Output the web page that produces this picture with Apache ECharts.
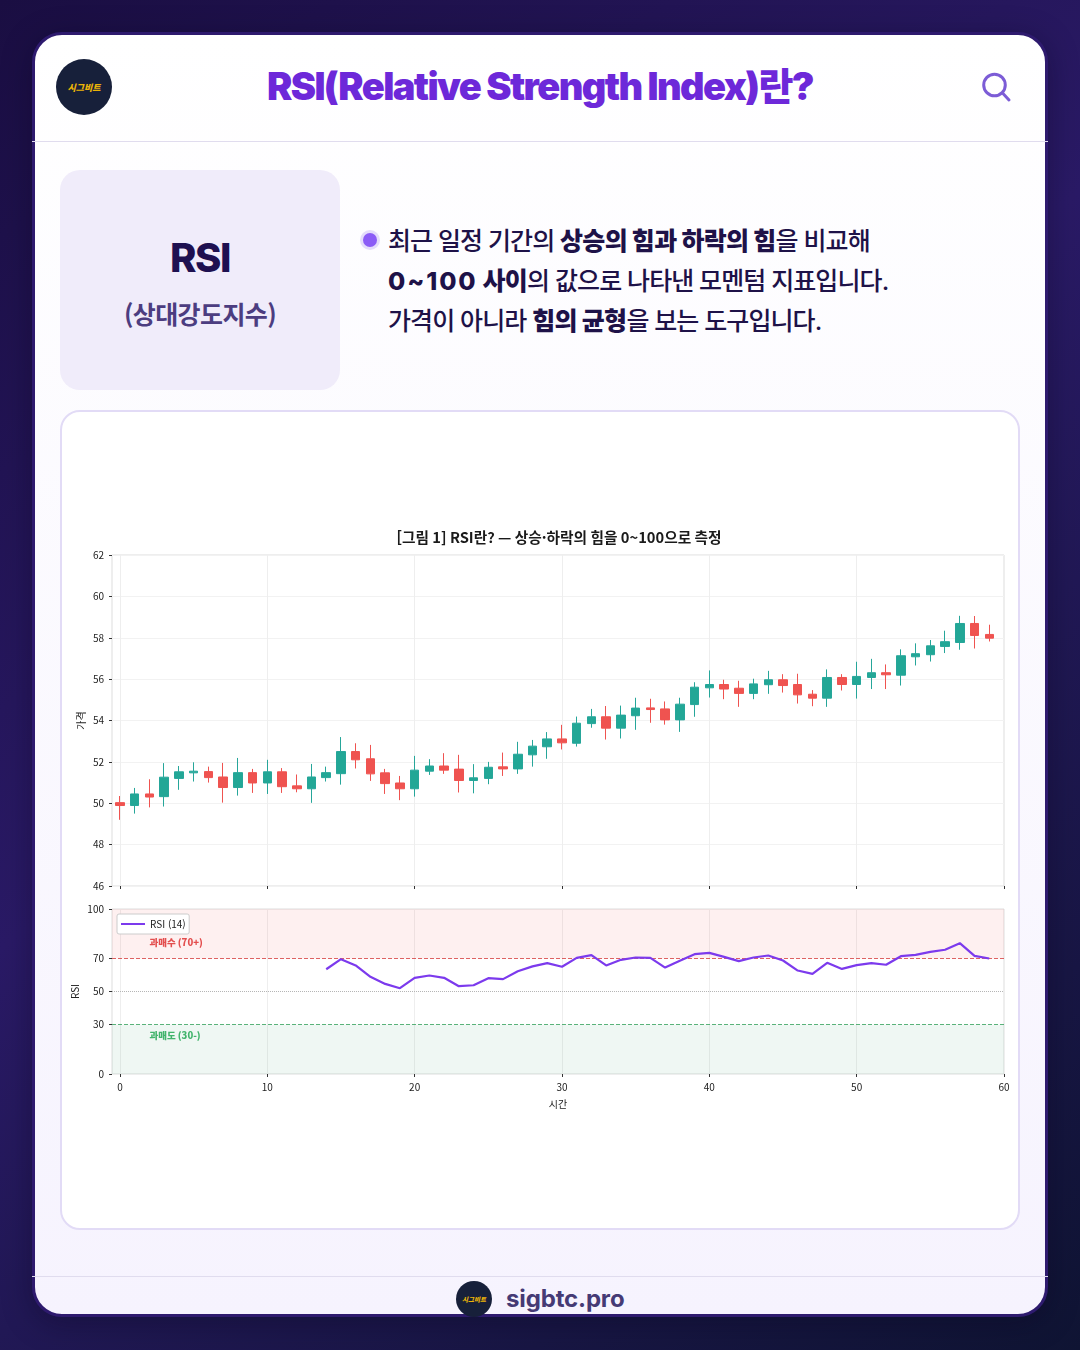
<!DOCTYPE html>
<html lang="ko"><head><meta charset="utf-8">
<script src="https://cdn.jsdelivr.net/npm/echarts@6/dist/echarts.min.js"></script>
<style>
*{box-sizing:border-box;margin:0;padding:0}
html,body{width:1080px;height:1350px;overflow:hidden}
body{position:relative;background:linear-gradient(145deg,#1a0e42 0%,#2a1a66 45%,#0f1433 100%);font-family:Inter,"Noto Sans CJK KR",sans-serif}
.abs{position:absolute}
#card{left:32px;top:32px;width:1016px;height:1285px;border:3px solid #2e1a6e;border-radius:30px;background:linear-gradient(180deg,#ffffff 0%,#f6f3fe 100%);overflow:hidden;box-shadow:0 6px 30px rgba(10,5,30,.35)}
.rule{left:32px;width:1016px;height:1px;background:#e0dcee}
.logo{border-radius:50%;background:#17203a;color:#eab308;font-family:"Noto Sans CJK KR";font-weight:900;font-style:italic;display:flex;align-items:center;justify-content:center;white-space:nowrap}
#title{left:0;top:59px;width:1080px;text-align:center;font-size:38px;line-height:54px;font-weight:900;letter-spacing:-1.6px;color:#6d28d9;font-family:Inter,"Noto Sans CJK KR"}
#box{left:60px;top:170px;width:280px;height:220px;border-radius:20px;background:#f0ecfa}
#b1{left:60px;top:232px;width:280px;text-align:center;font:800 40px/52px Inter,"Noto Sans CJK KR";letter-spacing:-1.5px;color:#1e1050}
#b2{left:60px;top:295px;width:280px;text-align:center;font:700 25px/36px "Noto Sans CJK KR";letter-spacing:-.6px;color:#4c3d80}
#dot{left:363px;top:233px;width:14px;height:14px;border-radius:50%;background:#8b5cf6;box-shadow:0 0 0 3px #e4dcfb}
#desc{left:388px;top:221px;font:500 25px/40px Inter,"Noto Sans CJK KR";letter-spacing:-.9px;color:#1e1248;white-space:nowrap}
#desc b{font-weight:800;letter-spacing:-.65px}
#desc .num{letter-spacing:1.9px}
#chartCard{left:60px;top:410px;width:960px;height:820px;border:2px solid #e2dbf6;border-radius:20px;background:#fff;overflow:hidden}
#chart{left:0;top:0;width:956px;height:816px;position:absolute}
#site{left:506px;top:1282px;font:700 24px/34px Inter,sans-serif;letter-spacing:-.15px;color:#453a75}
</style></head><body>
<div id="card" class="abs"></div>
<div class="abs rule" style="top:141px"></div>
<div class="abs rule" style="top:1276px"></div>
<div class="abs logo" style="left:56px;top:59px;width:56px;height:56px;font-size:9px">시그비트</div>
<div id="title" class="abs">RSI(Relative Strength Index)란?</div>
<svg class="abs" style="left:980px;top:71px" width="32" height="32" viewBox="0 0 32 32" fill="none" stroke="#7c5cd6" stroke-width="3" stroke-linecap="round"><circle cx="14.5" cy="14" r="10.8"/><path d="M22.5 22l6.5 7"/></svg>
<div id="box" class="abs"></div>
<div id="b1" class="abs">RSI</div>
<div id="b2" class="abs">(상대강도지수)</div>
<div id="dot" class="abs"></div>
<div id="desc" class="abs">최근 일정 기간의 <b>상승의 힘과 하락의 힘</b>을 비교해<br><b><span class="num">0~100</span> 사이</b>의 값으로 나타낸 모멘텀 지표입니다.<br>가격이 아니라 <b>힘의 균형</b>을 보는 도구입니다.</div>
<div id="chartCard" class="abs"><div id="chart"></div></div>
<div class="abs logo" style="left:456px;top:1281px;width:36px;height:36px;font-size:6.5px">시그비트</div>
<div id="site" class="abs">sigbtc.pro</div>
<script>
const chartTitle = '[그림 1] RSI란? — 상승·하락의 힘을 0~100으로 측정';
const priceAxisName = '가격';
const rsiAxisName = 'RSI';
const timeAxisName = '시간';
const rsiName = 'RSI (14)';
const overboughtLabel = '과매수 (70+)';
const oversoldLabel = '과매도 (30-)';
const timeTicks = [0, 10, 20, 30, 40, 50, 60];
const rsiTicks = [0, 30, 50, 70, 100];
const opens  = [50.03,49.89,50.45,50.32,51.2,51.47,51.53,51.27,50.76,51.48,50.98,51.52,50.84,50.7,51.24,51.43,52.5,52.15,51.47,50.98,50.7,51.55,51.8,51.65,51.1,51.2,51.76,51.66,52.34,52.73,53.11,52.9,53.85,54.18,53.63,54.23,54.61,54.56,54.03,54.77,55.58,55.74,55.56,55.31,55.73,55.97,55.74,55.27,55.08,56.08,55.74,56.08,56.31,56.19,57.08,57.18,57.58,57.77,58.69,58.16];
const closes = [49.89,50.45,50.3,51.26,51.52,51.55,51.24,50.76,51.48,50.98,51.52,50.8,50.7,51.27,51.48,52.5,52.1,51.42,50.95,50.7,51.6,51.8,51.6,51.1,51.23,51.74,51.66,52.37,52.76,53.11,52.92,53.87,54.18,53.63,54.26,54.6,54.53,54.03,54.79,55.61,55.74,55.52,55.31,55.77,55.97,55.69,55.24,55.08,56.08,55.74,56.13,56.31,56.21,57.13,57.23,57.61,57.81,58.69,58.11,57.98];
const lows   = [49.2,49.5,49.8,49.84,50.65,51.05,51.0,50.03,50.37,50.5,50.45,50.5,50.53,50.02,51.05,50.9,51.68,51.08,50.45,50.15,50.32,51.37,51.42,50.52,50.48,50.92,51.32,51.42,51.77,52.15,52.6,52.74,53.65,53.08,53.13,53.55,53.89,53.8,53.45,54.18,55.11,55.03,54.66,55.03,55.29,55.35,54.82,54.69,54.66,55.45,55.06,55.52,55.52,55.69,56.66,56.85,57.26,57.42,57.48,57.82];
const highs  = [50.35,50.74,51.16,51.94,51.8,51.98,51.77,51.95,52.19,51.66,52.1,51.7,51.39,51.9,51.77,53.2,52.9,52.82,51.66,51.32,52.29,52.13,52.42,52.34,51.89,52.0,52.45,52.97,53.06,53.44,53.79,54.19,54.56,54.7,54.72,55.1,55.05,54.92,55.1,55.85,56.42,55.97,55.92,56.02,56.4,56.24,56.26,55.47,56.47,56.24,56.84,56.98,56.71,57.44,57.73,57.89,58.34,59.06,59.05,58.63];
const rsiStart = 14;
const rsiValues = [63.5,69.6,65.8,58.9,54.6,52.0,58.3,59.7,58.3,53.2,53.8,58.1,57.5,62.3,65.2,67.2,65,70.4,72,65.8,69.2,70.6,70.4,64.5,68.6,72.6,73.4,71,68.4,70.6,71.8,68.8,62.7,60.7,67.4,63.7,66,67.2,66.2,71.4,72.2,74,75.3,79.3,71.6,70];

const fontCJK = '"Noto Sans CJK KR"';
const textColor = '#222';
const candles = opens.map((o, i) => [i, o, closes[i], lows[i], highs[i]]);
const rsiSeries = rsiValues.map((v, i) => [i + rsiStart, v]);
const xBase = {type:'value', min:-0.54, max:60,
  axisLine:{show:false, onZero:false}, axisTick:{show:true, length:3, customValues:timeTicks, lineStyle:{color:'#333',width:1}},
  splitLine:{show:true, lineStyle:{color:'#eeeeee',width:1}}};

const chart = echarts.init(document.getElementById('chart'), null, {renderer:'canvas'});
// chart div origin on page is (62,412)
chart.setOption({
  animation:false,
  title:{text:chartTitle, left:492, top:113, textAlign:'center',
    textStyle:{fontFamily:fontCJK, fontSize:14.7, fontWeight:700, color:'#1a1a1a'}},
  legend:{show:true, data:[{name:rsiName, icon:'rect'}], left:55, top:502, orient:'horizontal',
    itemWidth:24, itemHeight:2, itemGap:5, padding:[5,4,5,4], backgroundColor:'#fff', borderColor:'#ccc', borderWidth:1, borderRadius:2,
    textStyle:{fontFamily:fontCJK, fontSize:10, color:textColor}},
  grid:[
    {left:50, top:143, width:892, height:331, show:true, borderColor:'#dddddd', borderWidth:1, backgroundColor:'#fff', outerBoundsMode:'none'},
    {left:50, top:497, width:892, height:165, show:true, borderColor:'#dddddd', borderWidth:1, backgroundColor:'#fff', outerBoundsMode:'none'}
  ],
  xAxis:[
    Object.assign({}, xBase, {gridIndex:0, axisLabel:{show:false}}),
    Object.assign({}, xBase, {gridIndex:1, name:timeAxisName, nameLocation:'middle', nameGap:25,
      nameTextStyle:{fontFamily:fontCJK, fontSize:10, color:textColor},
      axisLabel:{show:true, customValues:timeTicks, margin:8, fontFamily:fontCJK, fontSize:10, color:textColor, showMinLabel:true, showMaxLabel:true}})
  ],
  yAxis:[
    {type:'value', gridIndex:0, min:46, max:62, interval:2, name:priceAxisName, nameLocation:'middle', nameGap:26, nameRotate:90, nameMoveOverlap:false,
      nameTextStyle:{fontFamily:fontCJK, fontSize:10, color:textColor},
      axisLine:{show:false, onZero:false}, axisTick:{show:true, length:3, lineStyle:{color:'#333'}},
      axisLabel:{margin:8, fontFamily:fontCJK, fontSize:10, color:textColor},
      splitLine:{show:true, lineStyle:{color:'#f2f2f2',width:1}}},
    {type:'value', gridIndex:1, min:0, max:100, name:rsiAxisName, nameLocation:'middle', nameGap:32, nameRotate:90, nameMoveOverlap:false,
      nameTextStyle:{fontFamily:fontCJK, fontSize:10, color:textColor},
      axisLine:{show:false, onZero:false}, axisTick:{show:true, length:3, customValues:rsiTicks, lineStyle:{color:'#333'}},
      axisLabel:{margin:8, customValues:rsiTicks, fontFamily:fontCJK, fontSize:10, color:textColor},
      splitLine:{show:false}}
  ],
  series:[
    {type:'candlestick', name:'가격', xAxisIndex:0, yAxisIndex:0, data:candles, encode:{x:0, y:[1,2,3,4]}, barWidth:9,
      itemStyle:{color:'#22a796', color0:'#ef5350', borderColor:'#26a69a', borderColor0:'#ef5350', borderWidth:1}},
    {type:'line', name:rsiName, xAxisIndex:1, yAxisIndex:1, data:rsiSeries, showSymbol:false, symbol:'none',
      lineStyle:{color:'#7c3aed', width:2.2}, itemStyle:{color:'#7c3aed'}, z:5,
      markArea:{silent:true, z:1, data:[
        [{yAxis:70, itemStyle:{color:'rgba(239,68,68,0.08)'}},{yAxis:100}],
        [{yAxis:0, itemStyle:{color:'rgba(34,139,84,0.07)'}},{yAxis:30}]
      ]},
      markLine:{silent:true, symbol:'none', label:{show:false}, z:2, data:[
        {yAxis:70, lineStyle:{color:'rgba(214,60,60,0.8)', type:[4,2], width:1}},
        {yAxis:50, lineStyle:{color:'#b5b5b5', type:[1,1], width:1}},
        {yAxis:30, lineStyle:{color:'rgba(50,160,90,0.8)', type:[4,2], width:1}}
      ]}},
    {type:'scatter', xAxisIndex:1, yAxisIndex:1, symbolSize:0, silent:true, z:6,
      data:[
        {value:[2,80], label:{formatter:overboughtLabel, color:'#dc2626'}},
        {value:[2,23.6], label:{formatter:oversoldLabel, color:'#16a34a'}}
      ],
      label:{show:true, position:'right', distance:0, fontFamily:fontCJK, fontSize:9.5, fontWeight:800}}
  ]
});
</script>
</body></html>
